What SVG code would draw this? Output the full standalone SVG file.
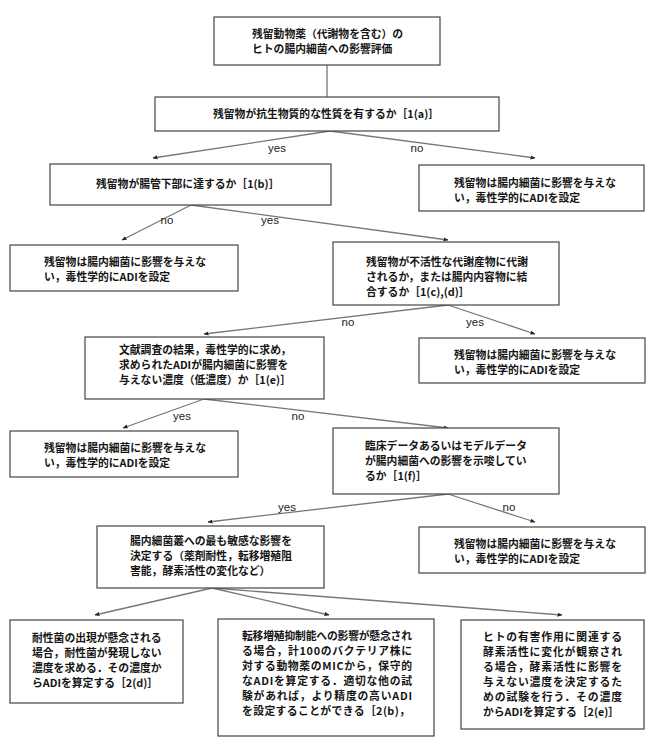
<svg xmlns="http://www.w3.org/2000/svg" width="650" height="750" viewBox="0 0 650 750">
<style>
.box{fill:#fff;stroke:#444;stroke-width:1.2}
.t{font-family:"Noto Sans CJK JP","Noto Sans",sans-serif;font-size:10.8px;font-weight:bold;fill:#151515}
.lbl{font-family:"Liberation Sans",Arial,sans-serif;font-size:11.5px;fill:#222;text-anchor:middle}
.c{stroke:#777;stroke-width:1.3;fill:none}
.ca{stroke:#777;stroke-width:1.3;fill:none;marker-end:url(#ah)}
</style>
<defs>
<marker id="ah" viewBox="0 0 10 10" refX="9" refY="5" markerWidth="5" markerHeight="5" orient="auto" markerUnits="userSpaceOnUse">
<path d="M0,1 L10,5 L0,9 z" fill="#222"/>
</marker>
</defs>
<rect width="650" height="750" fill="#fff"/>
<g id="connectors">
<line class="c" x1="327" y1="65" x2="327" y2="97"/>
<line class="ca" x1="330" y1="131" x2="153" y2="158"/>
<line class="ca" x1="330" y1="131" x2="535" y2="158"/>
<line class="ca" x1="191" y1="205" x2="122" y2="240"/>
<line class="ca" x1="191" y1="205" x2="448" y2="240"/>
<line class="ca" x1="448" y1="305" x2="204" y2="334"/>
<line class="ca" x1="448" y1="305" x2="535" y2="334"/>
<line class="ca" x1="204" y1="399" x2="123" y2="428"/>
<line class="ca" x1="204" y1="399" x2="448" y2="428"/>
<line class="ca" x1="448" y1="494" x2="208" y2="522"/>
<line class="ca" x1="448" y1="494" x2="535" y2="522"/>
<line class="ca" x1="212" y1="588" x2="95" y2="615"/>
<line class="ca" x1="212" y1="588" x2="329" y2="615"/>
<line class="ca" x1="212" y1="588" x2="562" y2="615"/>
<text class="lbl" x="277" y="152">yes</text>
<text class="lbl" x="417" y="152">no</text>
<text class="lbl" x="167" y="224">no</text>
<text class="lbl" x="270" y="224">yes</text>
<text class="lbl" x="348" y="326">no</text>
<text class="lbl" x="475" y="326">yes</text>
<text class="lbl" x="182" y="420">yes</text>
<text class="lbl" x="298" y="420">no</text>
<text class="lbl" x="287" y="511">yes</text>
<text class="lbl" x="509" y="511">no</text>
</g>
<g id="n1"><rect class="box" x="214" y="17" width="226" height="48"/>
<text class="t" x="252" y="38">残留動物薬（代謝物を含む）の</text>
<text class="t" x="252" y="53">ヒトの腸内細菌への影響評価</text></g>
<g id="n2"><rect class="box" x="155" y="97" width="344" height="34"/>
<text class="t" x="213" y="118">残留物が抗生物質的な性質を有するか［1(a)］</text></g>
<g id="n3"><rect class="box" x="50" y="164" width="281" height="41"/>
<text class="t" x="96" y="188">残留物が腸管下部に達するか［1(b)］</text></g>
<g id="n4"><rect class="box" x="419" y="165" width="225" height="46"/>
<text class="t" x="454" y="187">残留物は腸内細菌に影響を与えな</text>
<text class="t" x="454" y="202">い，毒性学的にADIを設定</text></g>
<g id="n5"><rect class="box" x="10" y="245" width="228" height="46"/>
<text class="t" x="44" y="266">残留物は腸内細菌に影響を与えな</text>
<text class="t" x="44" y="281">い，毒性学的にADIを設定</text></g>
<g id="n6"><rect class="box" x="333" y="242" width="226" height="63"/>
<text class="t" x="366" y="266">残留物が不活性な代謝産物に代謝</text>
<text class="t" x="366" y="281">されるか，または腸内内容物に結</text>
<text class="t" x="366" y="296">合するか［1(c),(d)］</text></g>
<g id="n7"><rect class="box" x="85" y="337" width="239" height="62"/>
<text class="t" x="119" y="354">文献調査の結果，毒性学的に求め，</text>
<text class="t" x="119" y="369">求められたADIが腸内細菌に影響を</text>
<text class="t" x="119" y="384">与えない濃度（低濃度）か［1(e)］</text></g>
<g id="n8"><rect class="box" x="419" y="338" width="226" height="45"/>
<text class="t" x="454" y="359">残留物は腸内細菌に影響を与えな</text>
<text class="t" x="454" y="374">い，毒性学的にADIを設定</text></g>
<g id="n9"><rect class="box" x="10" y="431" width="228" height="46"/>
<text class="t" x="44" y="452">残留物は腸内細菌に影響を与えな</text>
<text class="t" x="44" y="467">い，毒性学的にADIを設定</text></g>
<g id="n10"><rect class="box" x="333" y="428" width="226" height="66"/>
<text class="t" x="365" y="450">臨床データあるいはモデルデータ</text>
<text class="t" x="365" y="465">が腸内細菌への影響を示唆してい</text>
<text class="t" x="365" y="480">るか［1(f)］</text></g>
<g id="n11"><rect class="box" x="97" y="526" width="227" height="62"/>
<text class="t" x="130" y="545">腸内細菌叢への最も敏感な影響を</text>
<text class="t" x="130" y="560">決定する（薬剤耐性，転移増殖阻</text>
<text class="t" x="130" y="575">害能，酵素活性の変化など）</text></g>
<g id="n12"><rect class="box" x="419" y="527" width="226" height="46"/>
<text class="t" x="454" y="548">残留物は腸内細菌に影響を与えな</text>
<text class="t" x="454" y="563">い，毒性学的にADIを設定</text></g>
<g id="n13"><rect class="box" x="10" y="620" width="173" height="83"/>
<text class="t" x="32" y="642">耐性菌の出現が懸念される</text>
<text class="t" x="32" y="657">場合，耐性菌が発現しない</text>
<text class="t" x="32" y="672">濃度を求める．その濃度か</text>
<text class="t" x="32" y="687">らADIを算定する［2(d)］</text></g>
<g id="n14"><rect class="box" x="218" y="619" width="216" height="117"/>
<text class="t" x="242" y="640" textLength="170" lengthAdjust="spacing">転移増殖抑制能への影響が懸念され</text>
<text class="t" x="242" y="655" textLength="170" lengthAdjust="spacing">る場合，計100のバクテリア株に</text>
<text class="t" x="242" y="670" textLength="170" lengthAdjust="spacing">対する動物薬のMICから，保守的</text>
<text class="t" x="242" y="685" textLength="170" lengthAdjust="spacing">なADIを算定する．適切な他の試</text>
<text class="t" x="242" y="700" textLength="170" lengthAdjust="spacing">験があれば，より精度の高いADI</text>
<text class="t" x="242" y="715" textLength="168" lengthAdjust="spacing">を設定することができる［2(b)，</text></g>
<g id="n15"><rect class="box" x="461" y="620" width="183" height="109"/>
<text class="t" x="483" y="641" textLength="139" lengthAdjust="spacing">ヒトの有害作用に関連する</text>
<text class="t" x="483" y="656" textLength="139" lengthAdjust="spacing">酵素活性に変化が観察され</text>
<text class="t" x="483" y="671" textLength="139" lengthAdjust="spacing">る場合，酵素活性に影響を</text>
<text class="t" x="483" y="686" textLength="139" lengthAdjust="spacing">与えない濃度を決定するた</text>
<text class="t" x="483" y="701" textLength="139" lengthAdjust="spacing">めの試験を行う．その濃度</text>
<text class="t" x="483" y="716">からADIを算定する［2(e)］</text></g>
</svg>
